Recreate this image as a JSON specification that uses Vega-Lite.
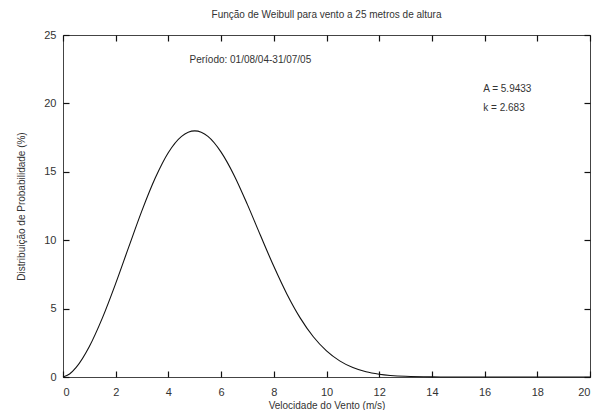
{
  "$schema": "https://vega.github.io/schema/vega-lite/v6.json",
  "autosize": {"type": "none"},
  "padding": {"left": 63, "top": 35, "right": 11, "bottom": 33},
  "width": 527,
  "height": 342,
  "background": "white",
  "title": {"text": "Função de Weibull para vento a 25 metros de altura", "fontSize": 10, "font": "Liberation Sans", "fontWeight": "normal", "color": "#333", "offset": 9, "anchor": "middle", "dx": 0},
  "config": {"view": {"stroke": "#444", "strokeWidth": 1}, "axis": {"grid": false, "domain": false, "labelColor": "#333", "titleColor": "#333", "labelFont": "Liberation Sans", "titleFont": "Liberation Sans", "labelFontSize": 11, "titleFontSize": 10, "titleFontWeight": "normal", "ticks": true, "tickSize": -6, "tickWidth": 1.2, "tickColor": "#111", "zindex": 1}},
  "datasets": {
    "curve": [
      {"v": 0, "p": 0}, {"v": 0.25, "p": 0.22}, {"v": 0.5, "p": 0.70}, {"v": 1, "p": 2.23}, {"v": 1.5, "p": 4.34},
      {"v": 2, "p": 6.84}, {"v": 2.5, "p": 9.53}, {"v": 3, "p": 12.18}, {"v": 3.5, "p": 14.54}, {"v": 4, "p": 16.41},
      {"v": 4.5, "p": 17.59}, {"v": 5, "p": 17.99}, {"v": 5.5, "p": 17.59}, {"v": 6, "p": 16.44}, {"v": 6.5, "p": 14.72},
      {"v": 7, "p": 12.60}, {"v": 7.5, "p": 10.32}, {"v": 8, "p": 8.09}, {"v": 8.5, "p": 6.05}, {"v": 9, "p": 4.32},
      {"v": 9.5, "p": 2.94}, {"v": 10, "p": 1.91}, {"v": 10.5, "p": 1.18}, {"v": 11, "p": 0.69}, {"v": 11.5, "p": 0.38},
      {"v": 12, "p": 0.20}, {"v": 13, "p": 0.05}, {"v": 14, "p": 0.01}, {"v": 15, "p": 0.0}, {"v": 16, "p": 0},
      {"v": 17, "p": 0}, {"v": 18, "p": 0}, {"v": 19, "p": 0}, {"v": 20, "p": 0}
    ],
    "notes": [
      {"v": 4.8, "p": 23.15, "t": "Período: 01/08/04-31/07/05"},
      {"v": 15.95, "p": 21.05, "t": "A = 5.9433"},
      {"v": 15.95, "p": 19.7, "t": "k = 2.683"}
    ]
  },
  "layer": [
    {
      "data": {"name": "curve"},
      "mark": {"type": "line", "color": "#111", "strokeWidth": 1.1, "interpolate": "monotone"},
      "encoding": {
        "x": {"field": "v", "type": "quantitative", "scale": {"domain": [0, 20], "nice": false, "zero": false}, "axis": {"tickCount": 10, "title": "Velocidade do Vento (m/s)", "labelPadding": 15, "titlePadding": 3}},
        "y": {"field": "p", "type": "quantitative", "scale": {"domain": [0, 25], "nice": false}, "axis": {"tickCount": 5, "title": "Distribuição de Probabilidade (%)", "labelPadding": 13, "titlePadding": 17}}
      }
    },
    {
      "data": {"name": "curve"},
      "mark": {"type": "line", "opacity": 0},
      "encoding": {
        "x": {"field": "v", "type": "quantitative", "scale": {"domain": [0, 20], "nice": false, "zero": false}, "axis": {"orient": "top", "tickCount": 10, "labels": false, "title": null}},
        "y": {"field": "p", "type": "quantitative", "scale": {"domain": [0, 25], "nice": false}, "axis": {"orient": "right", "tickCount": 5, "labels": false, "title": null}}
      }
    },
    {
      "data": {"name": "notes"},
      "mark": {"type": "text", "align": "left", "baseline": "middle", "fontSize": 10, "font": "Liberation Sans", "color": "#333"},
      "encoding": {
        "x": {"field": "v", "type": "quantitative", "axis": null},
        "y": {"field": "p", "type": "quantitative", "axis": null},
        "text": {"field": "t"}
      }
    }
  ],
  "resolve": {"axis": {"x": "independent", "y": "independent"}}
}
